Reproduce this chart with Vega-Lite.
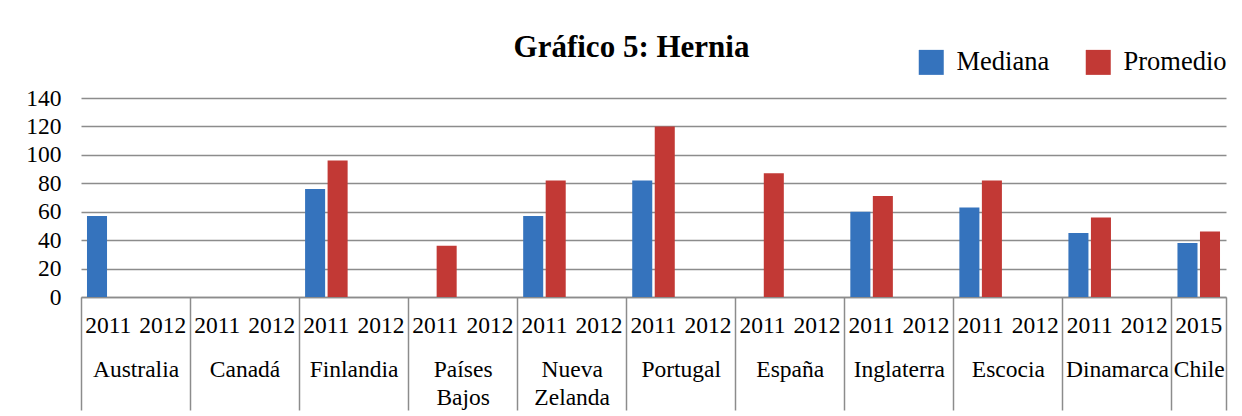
{
  "$schema": "https://vega.github.io/schema/vega-lite/v6.json",
  "width": 1145,
  "height": 199,
  "autosize": {"type": "none"},
  "padding": {"left": 81, "top": 98, "right": 16, "bottom": 119},
  "background": "white",
  "title": {
    "text": "Gráfico 5: Hernia",
    "font": "Liberation Serif",
    "fontSize": 31,
    "fontWeight": "bold",
    "color": "black",
    "anchor": "middle",
    "frame": "group",
    "dx": -22,
    "dy": 41,
    "offset": 26
  },
  "config": {
    "view": {"stroke": null},
    "font": "Liberation Serif"
  },
  "data": {
    "values": [
      {"key": "Australia|2011", "series": "Mediana", "value": 57},
      {"key": "Finlandia|2011", "series": "Mediana", "value": 76},
      {"key": "Finlandia|2011", "series": "Promedio", "value": 96},
      {"key": "Países Bajos|2011", "series": "Promedio", "value": 36},
      {"key": "Nueva Zelanda|2011", "series": "Mediana", "value": 57},
      {"key": "Nueva Zelanda|2011", "series": "Promedio", "value": 82},
      {"key": "Portugal|2011", "series": "Mediana", "value": 82},
      {"key": "Portugal|2011", "series": "Promedio", "value": 120},
      {"key": "España|2011", "series": "Promedio", "value": 87},
      {"key": "Inglaterra|2011", "series": "Mediana", "value": 60},
      {"key": "Inglaterra|2011", "series": "Promedio", "value": 71},
      {"key": "Escocia|2011", "series": "Mediana", "value": 63},
      {"key": "Escocia|2011", "series": "Promedio", "value": 82},
      {"key": "Dinamarca|2011", "series": "Mediana", "value": 45},
      {"key": "Dinamarca|2011", "series": "Promedio", "value": 56},
      {"key": "Chile|2015", "series": "Mediana", "value": 38},
      {"key": "Chile|2015", "series": "Promedio", "value": 46}
    ]
  },
  "encoding": {
    "xOffset": {
      "field": "series",
      "type": "nominal",
      "scale": {"domain": ["Mediana", "Promedio"], "paddingInner": 0.11, "paddingOuter": 0.266}
    },
    "y": {
      "field": "value",
      "type": "quantitative",
      "scale": {"domain": [0, 140], "nice": false},
      "axis": {
        "title": null,
        "values": [0, 20, 40, 60, 80, 100, 120, 140],
        "domain": false,
        "ticks": false,
        "grid": true,
        "gridColor": "#8c8c8c",
        "gridWidth": 1.5,
        "labelFont": "Liberation Serif",
        "labelFontSize": 23.5,
        "labelColor": "black",
        "labelPadding": 20
      }
    }
  },
  "layer": [
    {
      "mark": {"type": "bar"},
      "encoding": {
        "x": {
          "field": "key",
          "type": "nominal",
          "scale": {
            "domain": ["Australia|2011", "Australia|2012", "Canadá|2011", "Canadá|2012", "Finlandia|2011", "Finlandia|2012", "Países Bajos|2011", "Países Bajos|2012", "Nueva Zelanda|2011", "Nueva Zelanda|2012", "Portugal|2011", "Portugal|2012", "España|2011", "España|2012", "Inglaterra|2011", "Inglaterra|2012", "Escocia|2011", "Escocia|2012", "Dinamarca|2011", "Dinamarca|2012", "Chile|2015"],
            "paddingInner": 0,
            "paddingOuter": 0
          },
          "axis": {
            "orient": "bottom",
            "title": null,
            "domain": true,
            "domainColor": "#8c8c8c",
            "domainWidth": 1.5,
            "ticks": false,
            "labelExpr": "split(datum.value, '|')[1]",
            "labelFont": "Liberation Serif",
            "labelFontSize": 23.5,
            "labelColor": "black",
            "labelAngle": 0,
            "labelBaseline": "middle",
            "labelPadding": 28,
            "labelOverlap": false,
            "labelBound": false
          }
        },
        "color": {
          "field": "series",
          "type": "nominal",
          "scale": {"domain": ["Mediana", "Promedio"], "range": ["#3573bd", "#c23935"]},
          "legend": {
            "orient": "none",
            "legendX": 837,
            "legendY": -49,
            "direction": "horizontal",
            "title": null,
            "padding": 0,
            "symbolType": "square",
            "symbolSize": 625,
            "symbolStrokeWidth": 0,
            "labelFont": "Liberation Serif",
            "labelFontSize": 26.5,
            "labelColor": "black",
            "labelOffset": 12,
            "columnPadding": 35
          }
        }
      }
    },
    {
      "mark": {"type": "bar", "opacity": 0},
      "encoding": {
        "x": {
          "field": "key",
          "type": "nominal",
          "axis": {
            "orient": "bottom",
            "title": null,
            "values": ["Australia|2011", "Canadá|2011", "Finlandia|2011", "Países Bajos|2011", "Nueva Zelanda|2011", "Portugal|2011", "España|2011", "Inglaterra|2011", "Escocia|2011", "Dinamarca|2011", "Chile|2015"],
            "domain": false,
            "ticks": true,
            "tickOffset": -27.26,
            "tickSize": 113,
            "tickColor": "#8c8c8c",
            "tickWidth": 1.5,
            "labelExpr": "datum.value == 'Chile|2015' ? '' : split(split(datum.value, '|')[0], ' ')",
            "labelFont": "Liberation Serif",
            "labelFontSize": 23.5,
            "labelColor": "black",
            "labelAngle": 0,
            "labelBaseline": "top",
            "labelLineHeight": 28,
            "labelPadding": -53,
            "labelOffset": 54.52,
            "labelOverlap": false,
            "labelBound": false
          }
        }
      }
    },
    {
      "mark": {"type": "bar", "opacity": 0},
      "encoding": {
        "x": {
          "field": "key",
          "type": "nominal",
          "axis": {
            "orient": "bottom",
            "title": null,
            "values": ["Chile|2015"],
            "domain": false,
            "ticks": true,
            "tickOffset": 27.26,
            "tickSize": 113,
            "tickColor": "#8c8c8c",
            "tickWidth": 1.5,
            "labelExpr": "split(datum.value, '|')[0]",
            "labelFont": "Liberation Serif",
            "labelFontSize": 23.5,
            "labelColor": "black",
            "labelAngle": 0,
            "labelBaseline": "top",
            "labelPadding": -53,
            "labelOffset": -27.26,
            "labelOverlap": false,
            "labelBound": false
          }
        }
      }
    }
  ],
  "resolve": {"axis": {"x": "independent"}}
}
